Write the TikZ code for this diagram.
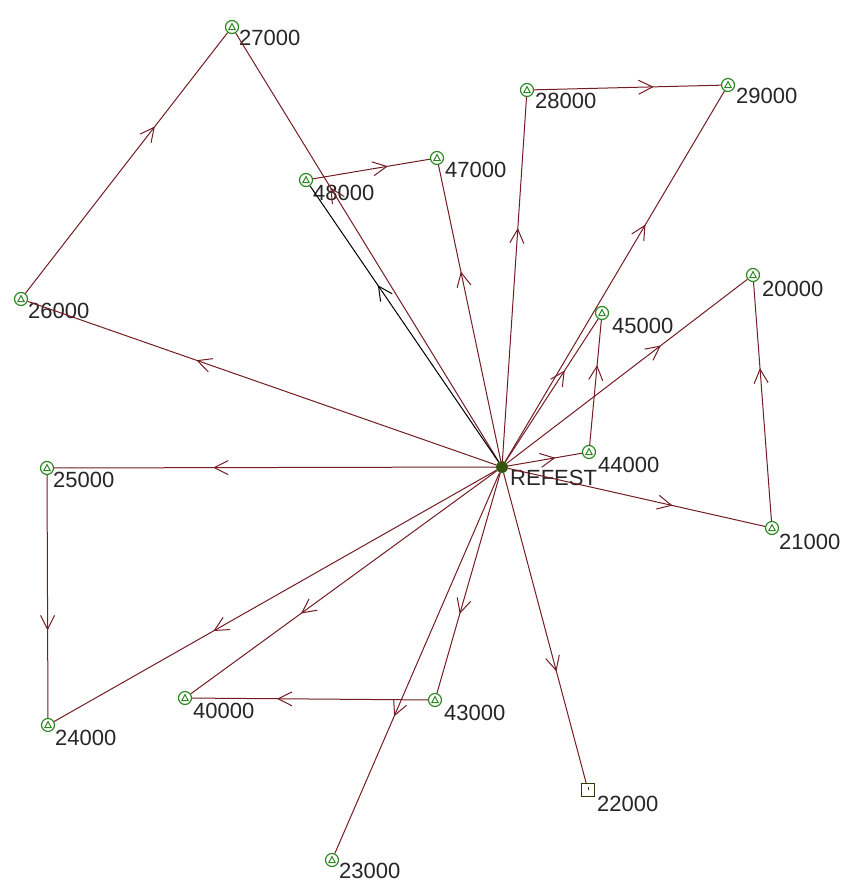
\documentclass[tikz,border=0pt]{standalone}
\usepackage{fontspec}
\setmainfont{Liberation Sans}
\usetikzlibrary{arrows.meta, decorations.markings, positioning}

\definecolor{routered}{RGB}{115,28,35}
\definecolor{sitegreen}{RGB}{45,135,35}
\definecolor{depotgreen}{RGB}{55,85,15}

\begin{document}
\begin{tikzpicture}[
        x=1pt, y=-1pt,
        site/.style={
            circle, draw=sitegreen, line width=1.2pt,
            minimum size=13pt, inner sep=0pt,
            path picture={
                \draw[sitegreen, line width=1pt]
                    ([shift={(-3.2pt,-2.6pt)}]path picture bounding box.center) --
                    ([shift={(0pt,3.4pt)}]path picture bounding box.center) --
                    ([shift={(3.2pt,-2.6pt)}]path picture bounding box.center) -- cycle;
            }
        },
        depot/.style={
            circle, fill=depotgreen, minimum size=12pt, inner sep=0pt
        },
        store/.style={
            rectangle, draw=depotgreen!70!black, line width=1pt,
            minimum size=13pt, inner sep=0pt,
            path picture={
                \draw[depotgreen!70!black, line width=0.8pt]
                    (path picture bounding box.center) -- ++(0pt,3.5pt);
            }
        },
        route/.style={
            draw=#1, line width=1pt, postaction={decorate},
            decoration={markings, mark=at position 0.64 with {\arrow[#1, line width=1pt]{Straight Barb[length=14pt, width=14pt]}}}
        },
        route/.default=routered,
        tag/.style={
            anchor=north west, inner sep=0pt, text=black!85,
            font=\fontsize{22}{24}\selectfont
        }
    ]
        \useasboundingbox (0,0) rectangle (843,884);

        % ----------------------------------------------------
        % DEPOT
        % ----------------------------------------------------
        \node[depot] (ref) at (502,467) {};
        \node[tag] (lref) at ([shift={(8,3)}]ref.center) {REFEST};

        % ----------------------------------------------------
        % CUSTOMER SITES
        % ----------------------------------------------------
        \node[site] (n27000) at (232,27) {};
        \node[tag] (l27000) at ([shift={(7,3)}]n27000.center) {27000};
        \node[site] (n26000) at (21,299) {};
        \node[tag] (l26000) at ([shift={(7,4)}]n26000.center) {26000};
        \node[site] (n48000) at (306,180) {};
        \node[tag] (l48000) at ([shift={(7,5)}]n48000.center) {48000};
        \node[site] (n47000) at (437,158) {};
        \node[tag] (l47000) at ([shift={(8,4)}]n47000.center) {47000};
        \node[site] (n28000) at (527,90) {};
        \node[tag] (l28000) at ([shift={(8,3)}]n28000.center) {28000};
        \node[site] (n29000) at (728,85) {};
        \node[tag] (l29000) at ([shift={(8,3)}]n29000.center) {29000};
        \node[site] (n45000) at (602,313) {};
        \node[tag] (l45000) at ([shift={(10,5)}]n45000.center) {45000};
        \node[site] (n44000) at (589,452) {};
        \node[tag] (l44000) at ([shift={(9,5)}]n44000.center) {44000};
        \node[site] (n20000) at (753,275) {};
        \node[tag] (l20000) at ([shift={(9,6)}]n20000.center) {20000};
        \node[site] (n21000) at (772,528) {};
        \node[tag] (l21000) at ([shift={(7,6)}]n21000.center) {21000};
        \node[site] (n25000) at (47,468) {};
        \node[tag] (l25000) at ([shift={(6,4)}]n25000.center) {25000};
        \node[site] (n24000) at (48,725) {};
        \node[tag] (l24000) at ([shift={(7,5)}]n24000.center) {24000};
        \node[site] (n40000) at (185,698) {};
        \node[tag] (l40000) at ([shift={(8,5)}]n40000.center) {40000};
        \node[site] (n43000) at (435,700) {};
        \node[tag] (l43000) at ([shift={(9,5)}]n43000.center) {43000};
        \node[site] (n23000) at (332,860) {};
        \node[tag] (l23000) at ([shift={(7,3)}]n23000.center) {23000};
        \node[store] (n22000) at (588,790) {};
        \node[tag] (l22000) at ([shift={(9,6)}]n22000.center) {22000};

        % ----------------------------------------------------
        % ROUTES
        % ----------------------------------------------------
        \draw[route] (ref) -- (n26000);
        \draw[route] (n26000) -- (n27000);
        \draw[route] (ref) -- (n27000);
        \draw[route=black] (ref) -- (n48000);
        \draw[route] (n48000) -- (n47000);
        \draw[route] (ref) -- (n47000);
        \draw[route] (ref) -- (n28000);
        \draw[route] (n28000) -- (n29000);
        \draw[route] (ref) -- (n29000);
        \draw[route] (ref) -- (n44000);
        \draw[route] (n44000) -- (n45000);
        \draw[route] (ref) -- (n45000);
        \draw[route] (ref) -- (n21000);
        \draw[route] (n21000) -- (n20000);
        \draw[route] (ref) -- (n20000);
        \draw[route] (ref) -- (n25000);
        \draw[route] (n25000) -- (n24000);
        \draw[route] (ref) -- (n24000);
        \draw[route] (ref) -- (n43000);
        \draw[route] (n43000) -- (n40000);
        \draw[route] (ref) -- (n40000);
        \draw[route] (ref) -- (n23000);
        \draw[route] (ref) -- (n22000);

    \end{tikzpicture}
\end{document}
